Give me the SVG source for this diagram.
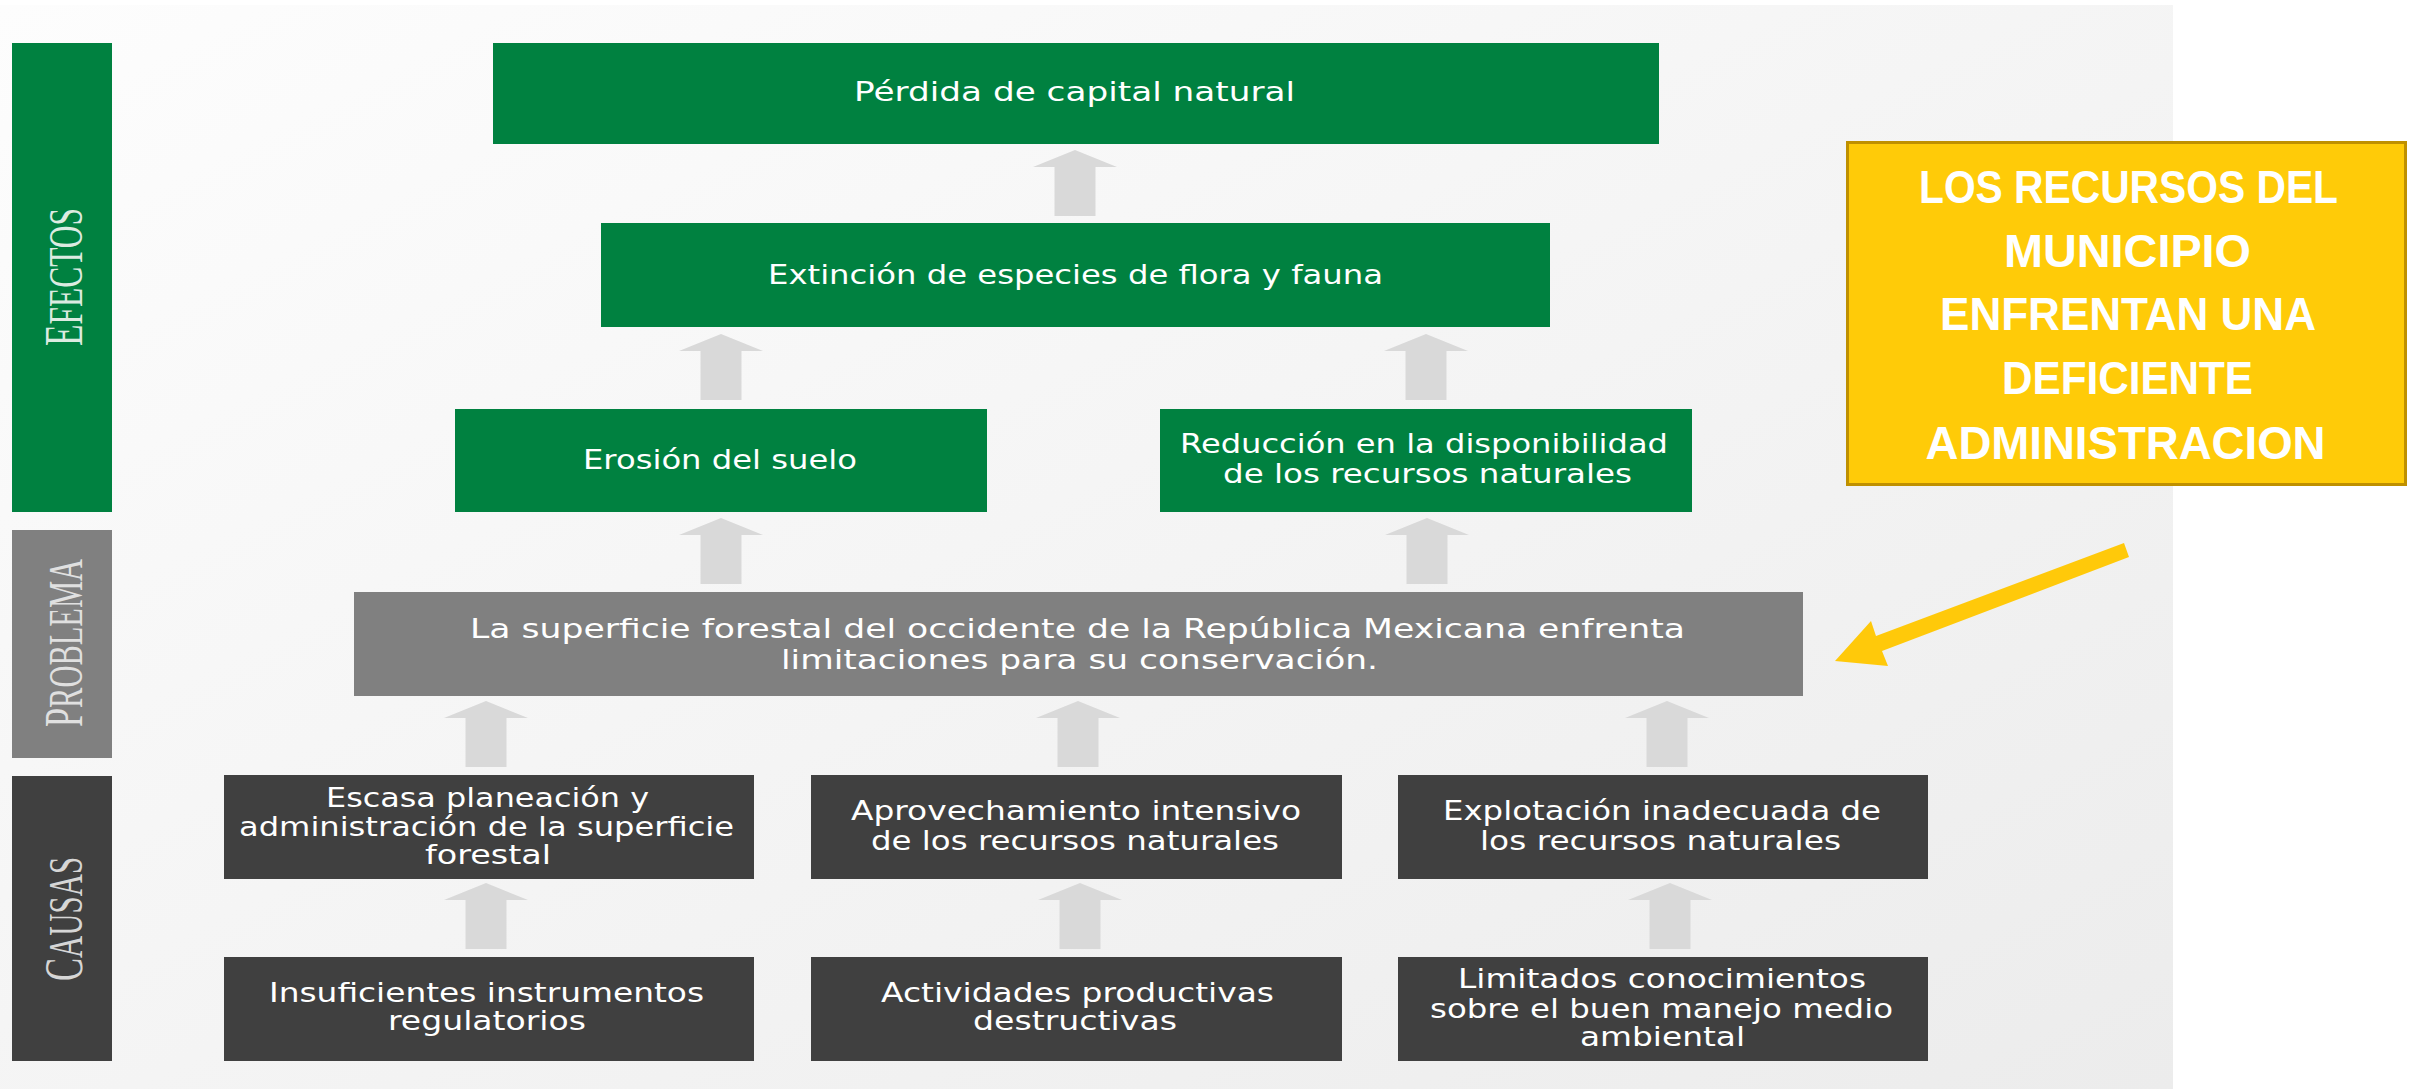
<svg xmlns="http://www.w3.org/2000/svg" width="2409" height="1089" viewBox="0 0 2409 1089">
<defs>
  <linearGradient id="bg" x1="0" y1="0" x2="1" y2="1">
    <stop offset="0" stop-color="#fdfdfd"/>
    <stop offset="1" stop-color="#ececec"/>
  </linearGradient>
  <path id="garrow" d="M0,0 L42,17 L20.5,17 L20.5,66 L-20.5,66 L-20.5,17 L-42,17 Z" fill="#d9d9d9"/>
</defs>
<style>
  .eff{fill:#008140}
  .prob{fill:#808080}
  .cau{fill:#404040}
  .t{font-family:"DejaVu Sans",sans-serif;font-size:26px;fill:#ffffff;text-anchor:middle}
  .side{font-family:"Liberation Serif",serif;font-size:48px;text-anchor:middle}
  .cap{font-size:54px}
  .y{font-family:"Liberation Sans",sans-serif;font-weight:bold;font-size:47px;fill:#ffffff;text-anchor:middle}
</style>
<rect width="2409" height="1089" fill="#ffffff"/>
<rect x="0" y="5" width="2173" height="1084" fill="url(#bg)"/>

<g id="side-efectos">
  <rect class="eff" x="12" y="43" width="100" height="469"/>
  <text class="side" fill="#dcebe1" transform="translate(82,277) rotate(-90)" textLength="138" lengthAdjust="spacingAndGlyphs"><tspan class="cap">E</tspan>FECTOS</text>
</g>
<g id="side-problema">
  <rect class="prob" x="12" y="530" width="100" height="228"/>
  <text class="side" fill="#e0e0e0" transform="translate(82,643) rotate(-90)" textLength="168" lengthAdjust="spacingAndGlyphs"><tspan class="cap">P</tspan>ROBLEMA</text>
</g>
<g id="side-causas">
  <rect class="cau" x="12" y="776" width="100" height="285"/>
  <text class="side" fill="#d6d6d6" transform="translate(82,919) rotate(-90)" textLength="124" lengthAdjust="spacingAndGlyphs"><tspan class="cap">C</tspan>AUSAS</text>
</g>

<g id="connectors">
  <use href="#garrow" x="1075" y="150"/>
  <use href="#garrow" x="721" y="334"/>
  <use href="#garrow" x="1426" y="334"/>
  <use href="#garrow" x="721" y="518"/>
  <use href="#garrow" x="1427" y="518"/>
  <use href="#garrow" x="486" y="701"/>
  <use href="#garrow" x="1078" y="701"/>
  <use href="#garrow" x="1667" y="701"/>
  <use href="#garrow" x="486" y="883"/>
  <use href="#garrow" x="1080" y="883"/>
  <use href="#garrow" x="1670" y="883"/>
  <polygon points="2124,543 1876,636 1871,621 1835,661 1888,666 1882,651 2129,557" fill="#ffc90a"/>
</g>

<g id="n-perdida">
  <rect class="eff" x="493" y="43" width="1166" height="101"/>
  <text class="t" x="1074.5" y="101" textLength="441" lengthAdjust="spacingAndGlyphs">Pérdida de capital natural</text>
</g>
<g id="n-extincion">
  <rect class="eff" x="601" y="223" width="949" height="104"/>
  <text class="t" x="1075.5" y="284" textLength="615" lengthAdjust="spacingAndGlyphs">Extinción de especies de flora y fauna</text>
</g>
<g id="n-erosion">
  <rect class="eff" x="455" y="409" width="532" height="103"/>
  <text class="t" x="720" y="469" textLength="274" lengthAdjust="spacingAndGlyphs">Erosión del suelo</text>
</g>
<g id="n-reduccion">
  <rect class="eff" x="1160" y="409" width="532" height="103"/>
  <text class="t" x="1424" y="453" textLength="488" lengthAdjust="spacingAndGlyphs">Reducción en la disponibilidad</text>
  <text class="t" x="1427.5" y="483" textLength="409" lengthAdjust="spacingAndGlyphs">de los recursos naturales</text>
</g>
<g id="n-problema">
  <rect class="prob" x="354" y="592" width="1449" height="104"/>
  <text class="t" x="1077.5" y="638" textLength="1215" lengthAdjust="spacingAndGlyphs">La superficie forestal del occidente de la República Mexicana enfrenta</text>
  <text class="t" x="1079.5" y="669" textLength="597" lengthAdjust="spacingAndGlyphs">limitaciones para su conservación.</text>
</g>
<g id="n-escasa">
  <rect class="cau" x="224" y="775" width="530" height="104"/>
  <text class="t" x="487.5" y="807" textLength="323" lengthAdjust="spacingAndGlyphs">Escasa planeación y</text>
  <text class="t" x="486.5" y="836" textLength="495" lengthAdjust="spacingAndGlyphs">administración de la superficie</text>
  <text class="t" x="488" y="864" textLength="126" lengthAdjust="spacingAndGlyphs">forestal</text>
</g>
<g id="n-aprovechamiento">
  <rect class="cau" x="811" y="775" width="531" height="104"/>
  <text class="t" x="1076" y="820" textLength="450" lengthAdjust="spacingAndGlyphs">Aprovechamiento intensivo</text>
  <text class="t" x="1075" y="850" textLength="408" lengthAdjust="spacingAndGlyphs">de los recursos naturales</text>
</g>
<g id="n-explotacion">
  <rect class="cau" x="1398" y="775" width="530" height="104"/>
  <text class="t" x="1662" y="820" textLength="438" lengthAdjust="spacingAndGlyphs">Explotación inadecuada de</text>
  <text class="t" x="1660.5" y="850" textLength="361" lengthAdjust="spacingAndGlyphs">los recursos naturales</text>
</g>
<g id="n-insuficientes">
  <rect class="cau" x="224" y="957" width="530" height="104"/>
  <text class="t" x="486.5" y="1002" textLength="435" lengthAdjust="spacingAndGlyphs">Insuficientes instrumentos</text>
  <text class="t" x="487" y="1030" textLength="198" lengthAdjust="spacingAndGlyphs">regulatorios</text>
</g>
<g id="n-actividades">
  <rect class="cau" x="811" y="957" width="531" height="104"/>
  <text class="t" x="1077.5" y="1002" textLength="393" lengthAdjust="spacingAndGlyphs">Actividades productivas</text>
  <text class="t" x="1075" y="1030" textLength="204" lengthAdjust="spacingAndGlyphs">destructivas</text>
</g>
<g id="n-limitados">
  <rect class="cau" x="1398" y="957" width="530" height="104"/>
  <text class="t" x="1662" y="988" textLength="408" lengthAdjust="spacingAndGlyphs">Limitados conocimientos</text>
  <text class="t" x="1661.5" y="1018" textLength="463" lengthAdjust="spacingAndGlyphs">sobre el buen manejo medio</text>
  <text class="t" x="1662.5" y="1046" textLength="165" lengthAdjust="spacingAndGlyphs">ambiental</text>
</g>

<g id="n-nota">
  <rect x="1847.5" y="142.5" width="558" height="342" fill="#ffcb08" stroke="#bf9000" stroke-width="3"/>
  <text class="y" x="2128.5" y="203" textLength="419" lengthAdjust="spacingAndGlyphs">LOS RECURSOS DEL</text>
  <text class="y" x="2127.5" y="267" textLength="247" lengthAdjust="spacingAndGlyphs">MUNICIPIO</text>
  <text class="y" x="2128" y="330" textLength="376" lengthAdjust="spacingAndGlyphs">ENFRENTAN UNA</text>
  <text class="y" x="2127.5" y="394" textLength="251" lengthAdjust="spacingAndGlyphs">DEFICIENTE</text>
  <text class="y" x="2125.5" y="459" textLength="400" lengthAdjust="spacingAndGlyphs">ADMINISTRACION</text>
</g>
</svg>
